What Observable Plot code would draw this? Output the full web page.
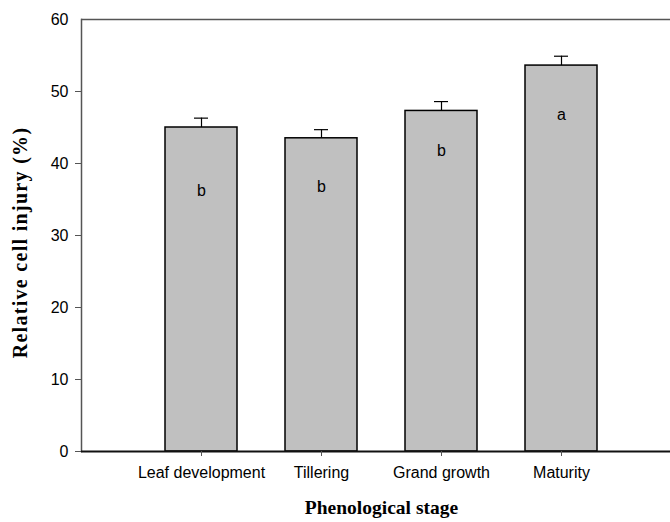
<!DOCTYPE html>
<html>
<head>
<meta charset="utf-8">
<script src="https://cdn.jsdelivr.net/npm/d3@7"></script>
<script src="https://cdn.jsdelivr.net/npm/@observablehq/plot@0.6"></script>
<style>
  html, body { margin: 0; padding: 0; background: #fff; overflow: hidden; }
  #chart svg { display: block; }
</style>
</head>
<body>
<div id="chart"></div>
<script>
const stages = ["Leaf development", "Tillering", "Grand growth", "Maturity"];
const values = [45.0, 43.5, 47.3, 53.6];
const errors = [1.3, 1.2, 1.3, 1.3];
const letters = ["b", "b", "b", "a"];
const letterY = [36.2, 36.8, 41.8, 46.8];
const yTicks = [0, 10, 20, 30, 40, 50, 60];
const xTitle = "Phenological stage";
const yTitle = "Relative cell injury (%)";

const data = stages.map((s, i) => ({
  stage: s, value: values[i], err: errors[i], letter: letters[i], ly: letterY[i]
}));

const W = 670, H = 522;
const serif = "'Liberation Serif', 'Times New Roman', serif";
const chart = Plot.plot({
  width: W,
  height: H,
  marginLeft: 81,
  marginRight: 0,
  marginTop: 19,
  marginBottom: 71,
  style: { fontFamily: "'Liberation Sans', Arial, sans-serif", fontSize: "16px", color: "#000", background: "#fff", overflow: "hidden" },
  x: { domain: stages, range: [81, 681], paddingInner: 0.4, paddingOuter: 0.7 },
  y: { domain: [0, 60] },
  marks: [
    Plot.ruleY([60], { stroke: "#555", strokeWidth: 1.5 }),
    Plot.frame({ anchor: "left", stroke: "#555", strokeWidth: 1.5 }),
    Plot.barY(data, { x: "stage", y: "value", fill: "#c0c0c0", stroke: "#000", strokeWidth: 1.5 }),
    Plot.ruleX(data, { x: "stage", y1: "value", y2: d => d.value + d.err, stroke: "#000", strokeWidth: 1.2 }),
    Plot.tickY(data, { x: "stage", y: d => d.value + d.err, stroke: "#000", strokeWidth: 1.2, insetLeft: 29, insetRight: 29 }),
    Plot.text(data, { x: "stage", y: "ly", text: "letter", fontSize: 16, fill: "#000" }),
    Plot.ruleY([0], { stroke: "#111", strokeWidth: 2.2 }),
    Plot.axisY({ ticks: yTicks.filter(t => t < 60), tickSize: 6, tickPadding: 7, stroke: "#555", tickFormat: d => d, label: null, fontSize: 16 }),
    Plot.axisY({ ticks: [60], tickSize: 0, tickPadding: 13, tickFormat: d => d, label: null, fontSize: 16 }),
    Plot.axisX({ tickSize: 5, tickPadding: 10, stroke: "#555", label: null, fontSize: 16 }),
    Plot.text([xTitle], { frameAnchor: "bottom", text: d => d, dx: 5.5, dy: 62, fontFamily: serif, fontWeight: "bold", fontSize: 19.5, fill: "#000" }),
    Plot.text([yTitle], { frameAnchor: "left", textAnchor: "middle", text: d => d, rotate: -90, dx: -60.5, dy: 7, fontFamily: serif, fontWeight: "bold", fontSize: 20, fill: "#000" })
  ]
});
d3.select(chart).selectAll("text")
  .filter(function () { return this.textContent === yTitle; })
  .attr("letter-spacing", "1.3px");
document.getElementById("chart").appendChild(chart);
</script>
</body>
</html>
